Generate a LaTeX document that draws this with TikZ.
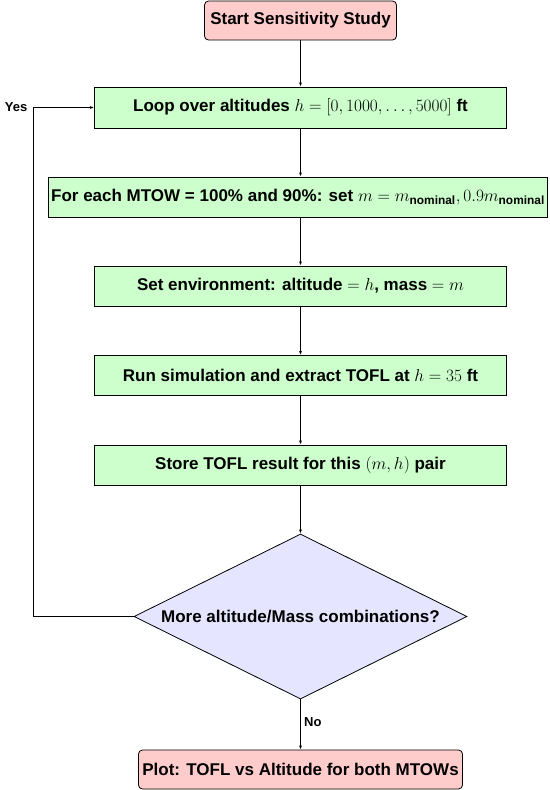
\documentclass[tikz,border=0pt]{standalone}
\usepackage[no-math]{fontspec}
\setmainfont{Liberation Sans}
\usepackage{amsmath}
\usetikzlibrary{shapes.geometric,arrows.meta}
\begin{document}
\begin{tikzpicture}[x=1pt,y=-1pt,
  base/.style={draw=black, line width=0.8pt, inner sep=3pt, font=\fontsize{17}{20}\selectfont\bfseries, align=center},
  term/.style={base, fill=red!20, rounded corners=4pt, minimum height=39pt},
  procbox/.style={base, fill=green!20, minimum width=412pt, minimum height=40pt},
  decision/.style={base, diamond, fill=blue!10, aspect=2, inner sep=1pt, minimum width=333pt, minimum height=165pt},
  conn/.style={line width=0.8pt, -{Latex[length=4pt,width=3pt]}},
  lbl/.style={font=\fontsize{13}{15}\selectfont\bfseries}]
\useasboundingbox (0,0) rectangle (549,790);
\fill[white] (0,0) rectangle (549,790);
\node[term, minimum width=192pt] (start) at (300.5,20.5) {Start Sensitivity Study};
\node[procbox, minimum height=41pt] (loop) at (300.5,107.5) {Loop over altitudes $h=[0,1000,\ldots,5000]$ ft};
\node[procbox, minimum width=494pt] (mtow) at (298,197) {For each MTOW = 100\% and 90\%: set $m=m_{\text{nominal}},0.9m_{\text{nominal}}$};
\node[procbox] (env) at (300.5,286) {Set environment: altitude $=h$, mass $=m$};
\node[procbox] (run) at (300.5,375.5) {Run simulation and extract TOFL at $h=35$ ft};
\node[procbox] (store) at (300.5,465) {Store TOFL result for this $(m,h)$ pair};
\node[decision] (dec) at (300.5,616.5) {More altitude/Mass combinations?};
\node[term, minimum width=324pt] (plot) at (300.5,769.5) {Plot: TOFL vs Altitude for both MTOWs};
\coordinate (bend) at (33,616.5);
\draw[conn] (start) -- (loop);
\draw[conn] (loop.south) -- (loop.south |- mtow.north);
\draw[conn] (loop.south |- mtow.south) -- (env.north);
\draw[conn] (env) -- (run);
\draw[conn] (run) -- (store);
\draw[conn] (store) -- (dec);
\draw[conn] (dec) -- node[lbl, right, pos=0.45] (no) {No} (plot);
\draw[conn] (dec.west) -- (bend) |- node[lbl, left, pos=0.5, xshift=-2pt] (yes) {Yes} (loop.west);
\end{tikzpicture}
\end{document}
